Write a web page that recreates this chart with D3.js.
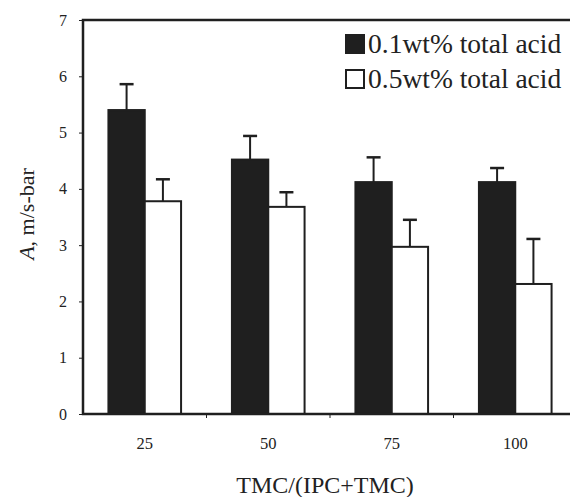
<!DOCTYPE html>
<html>
<head>
<meta charset="utf-8">
<script src="https://cdn.jsdelivr.net/npm/d3@7"></script>
<style>
  body { margin: 0; background: #fff; }
  svg { display: block; }
  text { font-family: "Liberation Serif", "DejaVu Serif", serif; fill: #222; }
</style>
</head>
<body>
<svg id="chart" width="570" height="497"></svg>
<script>
// Chart data
var categories = ["25", "50", "75", "100"]
var series_names = ["0.1wt% total acid", "0.5wt% total acid"]
var low_acid = [5.40, 4.52, 4.12, 4.12]
var low_acid_err = [0.46, 0.42, 0.44, 0.25]
var high_acid = [3.78, 3.68, 2.97, 2.31]
var high_acid_err = [0.39, 0.26, 0.48, 0.80]
var y_ticks = [0, 1, 2, 3, 4, 5, 6, 7]

var svg = d3.select("#chart")
var ink = "#1f1f1f"

// Plot frame (open on the right, runs off the picture)
var plot_left = 83, plot_right = 570, plot_top = 20, plot_bottom = 414

var x = d3.scaleBand()
  .domain(categories)
  .range([plot_left, plot_left + 4 * 123.5])
  .paddingInner(0)

var xs = d3.scaleBand()
  .domain([0, 1])
  .range([0, x.bandwidth()])
  .paddingInner(0)
  .paddingOuter(0.7)

var y = d3.scaleLinear()
  .domain([0, 7])
  .range([plot_bottom, plot_top])

// Bars
var rows = categories.map((c, i) => ({
  cat: c,
  vals: [
    {s: 0, v: low_acid[i], e: low_acid_err[i]},
    {s: 1, v: high_acid[i], e: high_acid_err[i]}
  ]
}))

var groups = svg.append("g").selectAll("g")
  .data(rows)
  .join("g")
  .attr("transform", d => "translate(" + x(d.cat) + ",0)")

// error bars (upward only)
groups.selectAll("line.err")
  .data(d => d.vals)
  .join("line")
  .attr("class", "err")
  .attr("x1", d => xs(d.s) + xs.bandwidth() / 2)
  .attr("x2", d => xs(d.s) + xs.bandwidth() / 2)
  .attr("y1", d => y(d.v))
  .attr("y2", d => y(d.v + d.e))
  .attr("stroke", ink)
  .attr("stroke-width", 2)

groups.selectAll("line.cap")
  .data(d => d.vals)
  .join("line")
  .attr("class", "cap")
  .attr("x1", d => xs(d.s) + xs.bandwidth() / 2 - 7)
  .attr("x2", d => xs(d.s) + xs.bandwidth() / 2 + 7)
  .attr("y1", d => y(d.v + d.e))
  .attr("y2", d => y(d.v + d.e))
  .attr("stroke", ink)
  .attr("stroke-width", 2.5)

groups.selectAll("rect")
  .data(d => d.vals)
  .join("rect")
  .attr("x", d => xs(d.s))
  .attr("width", xs.bandwidth())
  .attr("y", d => y(d.v))
  .attr("height", d => y(0) - y(d.v))
  .attr("fill", d => d.s == 0 ? ink : "#fff")
  .attr("stroke", ink)
  .attr("stroke-width", 2)

// Frame: left, top and bottom lines
svg.append("path")
  .attr("d", "M" + plot_right + "," + plot_top + "H" + plot_left + "V" + plot_bottom + "H" + plot_right)
  .attr("fill", "none")
  .attr("stroke", ink)
  .attr("stroke-width", 2.5)

// Y axis
var yAxis = svg.append("g")
  .attr("transform", "translate(" + plot_left + ",0)")
  .call(d3.axisLeft(y).tickValues(y_ticks).tickSize(4).tickPadding(12).tickFormat(d3.format("d")))
yAxis.select(".domain").remove()
yAxis.selectAll("line").attr("stroke", ink)
yAxis.selectAll("text").attr("font-size", 16).attr("font-family", "Liberation Serif").attr("fill", "#222")

// X axis: ticks at category boundaries, labels at centres
var boundaries = categories.slice(1)
svg.append("g").selectAll("line")
  .data(boundaries)
  .join("line")
  .attr("x1", d => x(d))
  .attr("x2", d => x(d))
  .attr("y1", plot_bottom)
  .attr("y2", plot_bottom + 4)
  .attr("stroke", ink)

svg.append("g").selectAll("text")
  .data(categories)
  .join("text")
  .attr("x", d => x(d) + x.bandwidth() / 2)
  .attr("y", 449)
  .attr("text-anchor", "middle")
  .attr("font-size", 16.5)
  .text(d => d)

// Axis titles
svg.append("text")
  .attr("x", 325)
  .attr("y", 493)
  .attr("text-anchor", "middle")
  .attr("font-size", 24)
  .text("TMC/(IPC+TMC)")

var ytitle = svg.append("text")
  .attr("transform", "translate(34,214) rotate(-90)")
  .attr("text-anchor", "middle")
  .attr("font-size", 22)
ytitle.append("tspan").attr("font-style", "italic").text("A")
ytitle.append("tspan").text(", m/s-bar")

// Legend
var legend = svg.append("g").selectAll("g")
  .data(series_names)
  .join("g")
  .attr("transform", (d, i) => "translate(346," + (35 + i * 35) + ")")

legend.append("rect")
  .attr("width", 18)
  .attr("height", 18)
  .attr("fill", (d, i) => i == 0 ? ink : "#fff")
  .attr("stroke", ink)
  .attr("stroke-width", 2)

legend.append("text")
  .attr("x", 22)
  .attr("y", 18)
  .attr("font-size", 27.5)
  .text(d => d)
</script>
</body>
</html>
